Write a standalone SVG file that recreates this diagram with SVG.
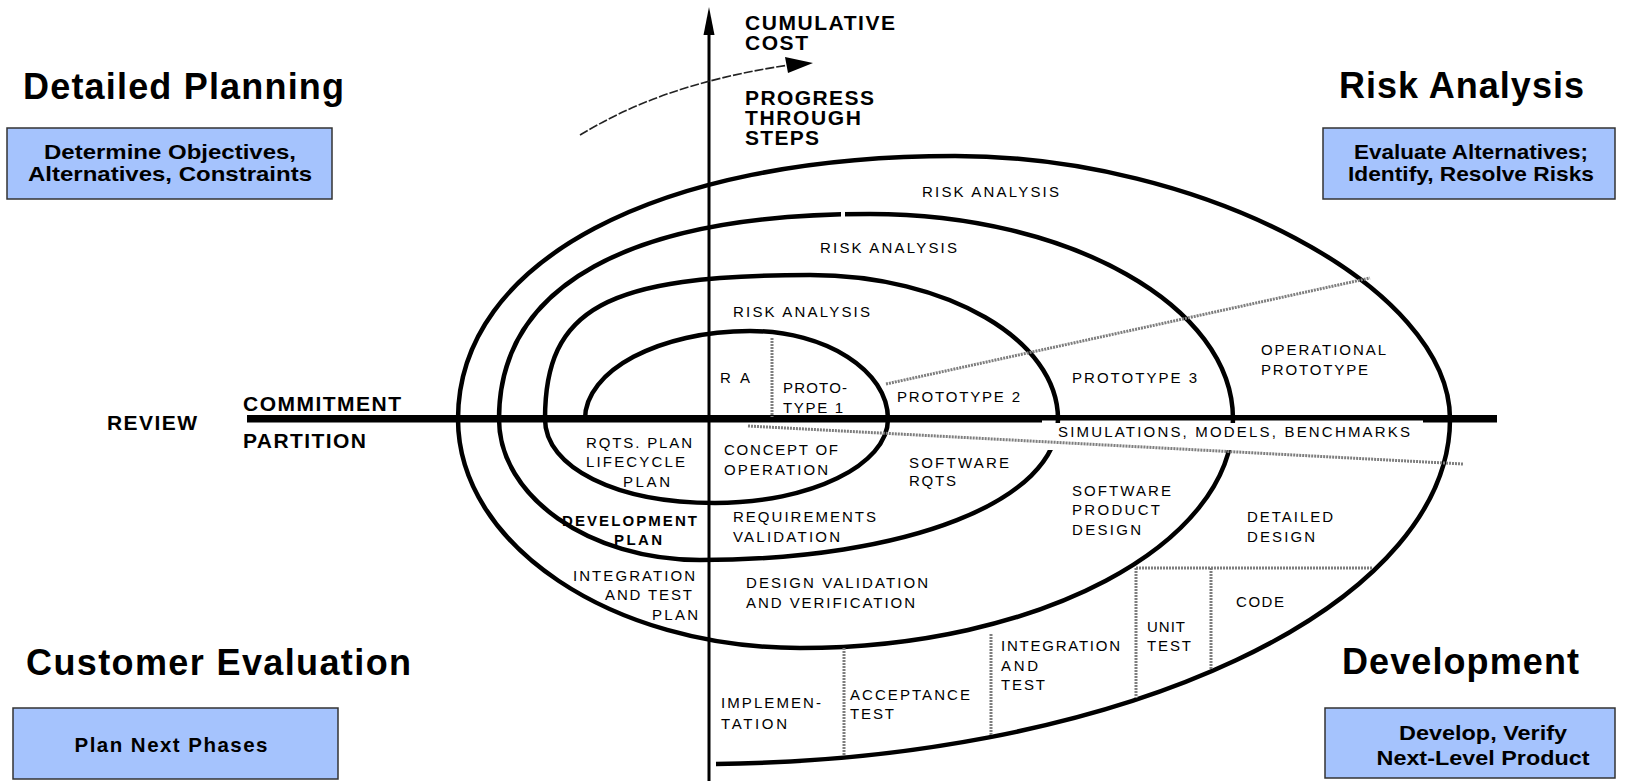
<svg xmlns="http://www.w3.org/2000/svg" width="1644" height="781" viewBox="0 0 1644 781">
<style>
.title{font-family:"Liberation Sans",Arial,sans-serif;font-weight:bold;font-size:36px;fill:#000}
.boxt{font-family:"Liberation Sans",Arial,sans-serif;font-weight:bold;font-size:20.5px;fill:#000;text-anchor:middle}
.axt{font-family:"Liberation Sans",Arial,sans-serif;font-weight:bold;font-size:21px;fill:#000}
.lbl{font-family:"Liberation Sans",Arial,sans-serif;font-size:15px;fill:#000}
.lblb{font-family:"Liberation Sans",Arial,sans-serif;font-size:15px;font-weight:bold;fill:#000}
.box{fill:#a5c3fd;stroke:#333;stroke-width:1.5}
.spiral{fill:none;stroke:#000;stroke-width:4.5;stroke-linecap:butt}
.dot{fill:none;stroke:#7e7e7e;stroke-width:3;stroke-dasharray:2 1}
</style>
<defs>
<mask id="gapmask" maskUnits="userSpaceOnUse" x="0" y="0" width="1644" height="781">
<rect x="0" y="0" width="1644" height="781" fill="#fff"/>
<rect x="1040" y="423" width="205" height="27" fill="#000"/>
<rect x="841" y="205" width="4" height="20" fill="#000"/>
</mask>
</defs>
<rect x="0" y="0" width="1644" height="781" fill="#fff"/>

<g id="axes">
<rect x="247" y="415" width="795" height="7.5" fill="#000"/>
<rect x="1042" y="415" width="381" height="5.5" fill="#000"/>
<rect x="1423" y="415" width="74" height="7.5" fill="#000"/>
<line x1="709" y1="30" x2="709" y2="781" stroke="#000" stroke-width="3"/>
<polygon points="709,7 703.5,35 714.5,35" fill="#000"/>
</g>

<g id="spiral">
<path class="spiral" mask="url(#gapmask)" d="M585,419 C585,370.6 659.3,331 750,331 C825.9,331 888,370.6 888,419 C888,465.2 810.2,503 715,503 C616.4,503 545,467.7 545,419 C545,308.1 605.9,275 810,275 C946.4,275 1058,339.8 1058,419 C1058,500.8 907.6,560 700,560 C589.4,560 499,496.6 499,419 C499,285.7 628.8,214 870,214 C1069.7,214 1233,306.2 1233,419 C1233,545 1038.2,648 800,648 C611.9,648 458,545 458,419 C458,261.2 656.8,156 955,156 C1202.5,156 1450,287.5 1450,419 A750,345 0 0 1 716,763.9"/>
</g>

<g id="connectors">
<line class="dot" x1="772" y1="338" x2="772" y2="417"/>
<line class="dot" x1="886" y1="384" x2="1370" y2="278"/>
<line class="dot" x1="748" y1="426" x2="1463" y2="464"/>
<line class="dot" x1="1136" y1="568" x2="1373" y2="568"/>
<line class="dot" x1="1136" y1="568" x2="1136" y2="698"/>
<line class="dot" x1="1211" y1="568" x2="1211" y2="669"/>
<line class="dot" x1="991" y1="634" x2="991" y2="736"/>
<line class="dot" x1="844" y1="648" x2="844" y2="755"/>
<path d="M580,135 C630,105 690,80 789,65" fill="none" stroke="#222" stroke-width="1.6" stroke-dasharray="9 2"/>
<polygon points="785,57 813,63 788,73" fill="#000"/>
</g>

<g id="axis-labels">
<text class="axt" x="745" y="30" textLength="150">CUMULATIVE</text>
<text class="axt" x="745" y="50" textLength="63">COST</text>
<text class="axt" x="745" y="105" textLength="129">PROGRESS</text>
<text class="axt" x="745" y="125" textLength="116">THROUGH</text>
<text class="axt" x="745" y="145" textLength="74">STEPS</text>
<text class="axt" x="107" y="430" font-size="22" textLength="90">REVIEW</text>
<text class="axt" x="243" y="411" font-size="22" textLength="158">COMMITMENT</text>
<text class="axt" x="243" y="448" font-size="22" textLength="123">PARTITION</text>
</g>

<g id="node-detailed-planning">
<text class="title" x="23" y="99" textLength="321">Detailed Planning</text>
<rect class="box" x="7" y="128" width="325" height="71"/>
<text class="boxt" x="170" y="159" textLength="252" lengthAdjust="spacingAndGlyphs">Determine Objectives,</text>
<text class="boxt" x="170" y="181" textLength="284" lengthAdjust="spacingAndGlyphs">Alternatives, Constraints</text>
</g>

<g id="node-risk-analysis">
<text class="title" x="1339" y="98" textLength="245">Risk Analysis</text>
<rect class="box" x="1323" y="128" width="292" height="71"/>
<text class="boxt" x="1471" y="159" textLength="234" lengthAdjust="spacingAndGlyphs">Evaluate Alternatives;</text>
<text class="boxt" x="1471" y="181" textLength="246" lengthAdjust="spacingAndGlyphs">Identify, Resolve Risks</text>
</g>

<g id="node-customer-evaluation">
<text class="title" x="26" y="675" textLength="385">Customer Evaluation</text>
<rect class="box" x="13" y="708" width="325" height="71"/>
<text class="boxt" x="171" y="752" font-size="21" textLength="193">Plan Next Phases</text>
</g>

<g id="node-development">
<text class="title" x="1342" y="674" textLength="237">Development</text>
<rect class="box" x="1325" y="708" width="290" height="70"/>
<text class="boxt" x="1483" y="740" textLength="168" lengthAdjust="spacingAndGlyphs">Develop, Verify</text>
<text class="boxt" x="1483" y="765" textLength="213" lengthAdjust="spacingAndGlyphs">Next-Level Product</text>
</g>

<g id="spiral-labels">
<text class="lbl" x="922" y="197" textLength="137">RISK ANALYSIS</text>
<text class="lbl" x="820" y="253" textLength="137">RISK ANALYSIS</text>
<text class="lbl" x="733" y="317" textLength="137">RISK ANALYSIS</text>
<text class="lbl" x="720" y="383" textLength="30">R A</text>
<text class="lbl" x="783" y="393" textLength="64">PROTO-</text>
<text class="lbl" x="783" y="413" textLength="60">TYPE 1</text>
<text class="lbl" x="897" y="402" textLength="123">PROTOTYPE 2</text>
<text class="lbl" x="1072" y="383" textLength="125">PROTOTYPE 3</text>
<text class="lbl" x="1261" y="355" textLength="125">OPERATIONAL</text>
<text class="lbl" x="1261" y="375" textLength="107">PROTOTYPE</text>
<text class="lbl" x="1058" y="437" textLength="352">SIMULATIONS, MODELS, BENCHMARKS</text>
<text class="lbl" x="586" y="448" textLength="106">RQTS. PLAN</text>
<text class="lbl" x="586" y="467" textLength="99">LIFECYCLE</text>
<text class="lbl" x="623" y="487" textLength="47">PLAN</text>
<text class="lbl" x="724" y="455" textLength="114">CONCEPT OF</text>
<text class="lbl" x="724" y="475" textLength="104">OPERATION</text>
<text class="lbl" x="909" y="468" textLength="100">SOFTWARE</text>
<text class="lbl" x="909" y="486" textLength="47">RQTS</text>
<text class="lblb" x="562" y="526" textLength="135">DEVELOPMENT</text>
<text class="lblb" x="614" y="545" textLength="48">PLAN</text>
<text class="lbl" x="733" y="522" textLength="143">REQUIREMENTS</text>
<text class="lbl" x="733" y="542" textLength="107">VALIDATION</text>
<text class="lbl" x="573" y="581" textLength="122">INTEGRATION</text>
<text class="lbl" x="605" y="600" textLength="87">AND TEST</text>
<text class="lbl" x="652" y="620" textLength="46">PLAN</text>
<text class="lbl" x="746" y="588" textLength="182">DESIGN VALIDATION</text>
<text class="lbl" x="746" y="608" textLength="169">AND VERIFICATION</text>
<text class="lbl" x="1072" y="496" textLength="99">SOFTWARE</text>
<text class="lbl" x="1072" y="515" textLength="88">PRODUCT</text>
<text class="lbl" x="1072" y="535" textLength="69">DESIGN</text>
<text class="lbl" x="1247" y="522" textLength="86">DETAILED</text>
<text class="lbl" x="1247" y="542" textLength="68">DESIGN</text>
<text class="lbl" x="1236" y="607" textLength="48">CODE</text>
<text class="lbl" x="1147" y="632" textLength="38">UNIT</text>
<text class="lbl" x="1147" y="651" textLength="44">TEST</text>
<text class="lbl" x="1001" y="651" textLength="119">INTEGRATION</text>
<text class="lbl" x="1001" y="671" textLength="37">AND</text>
<text class="lbl" x="1001" y="690" textLength="44">TEST</text>
<text class="lbl" x="721" y="708" textLength="100">IMPLEMEN-</text>
<text class="lbl" x="721" y="729" textLength="66">TATION</text>
<text class="lbl" x="850" y="700" textLength="120">ACCEPTANCE</text>
<text class="lbl" x="850" y="719" textLength="44">TEST</text>
</g>
</svg>
